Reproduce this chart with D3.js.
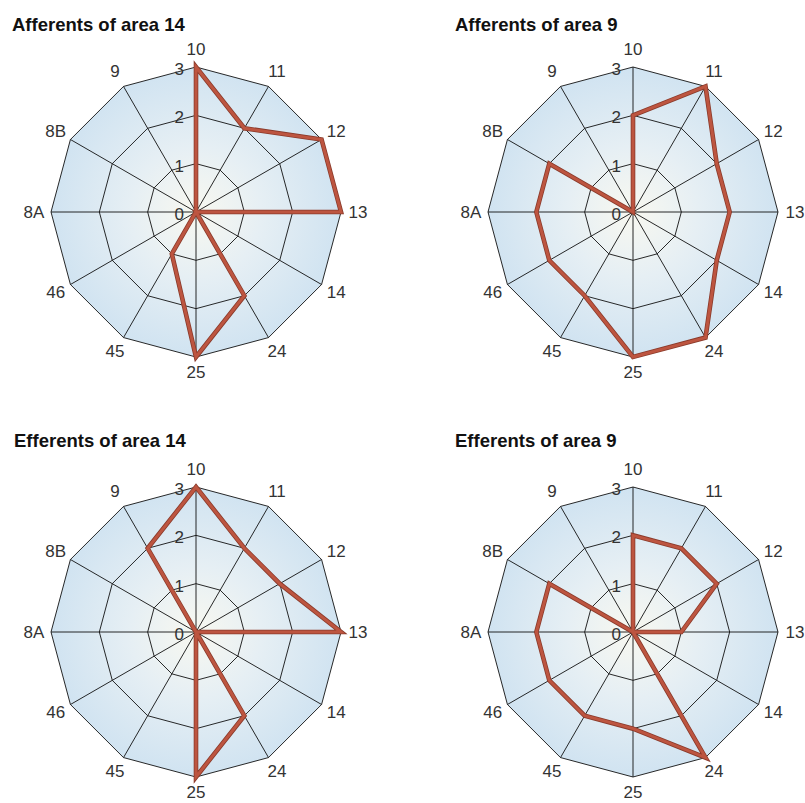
<!DOCTYPE html>
<html>
<head>
<meta charset="utf-8">
<script src="https://cdn.jsdelivr.net/npm/d3@7"></script>
<style>
  body { margin: 0; background: #fff; }
  svg { display: block; font-family: "Liberation Sans", Arial, sans-serif; }
</style>
</head>
<body>
<svg id="chart" width="805" height="803"></svg>
<script>
// Axes (clockwise from top)
const areas = ["10", "11", "12", "13", "14", "24", "25", "45", "46", "8A", "8B", "9"];
const ticks = [0, 1, 2, 3];

const titles = ["Afferents of area 14", "Afferents of area 9", "Efferents of area 14", "Efferents of area 9"];

// connection strength per area, same order as areas
const afferents14 = [3, 2, 3, 3, 0, 2, 3, 1, 0, 0, 0, 0];
const afferents9  = [2, 3, 2, 2, 2, 3, 3, 2, 2, 2, 2, 0];
const efferents14 = [3, 2, 2, 3, 0, 2, 3, 0, 0, 0, 0, 2];
const efferents9  = [2, 2, 2, 1, 0, 3, 2, 2, 2, 2, 2, 0];

const series = [afferents14, afferents9, efferents14, efferents9];

const svg = d3.select("#chart");

// positions des panneaux
const centers = [[196, 212], [633, 212], [196, 632], [633, 632]];
const titleX = [12, 455, 14, 455];
const titleY = [31, 31, 447, 447];

const R = 145;
const r = d3.scaleLinear().domain([0, 3]).range([0, R]);
const angle = d3.scalePoint().domain(areas).range([0, 2 * Math.PI * 11 / 12]);

// radial gradient background
const defs = svg.append("defs");
const grad = defs.append("radialGradient").attr("id", "bg")
    .attr("cx", "50%").attr("cy", "50%").attr("r", "50%");
grad.append("stop").attr("offset", "0%").attr("stop-color", "#f8f8f0");
grad.append("stop").attr("offset", "45%").attr("stop-color", "#e6eff4");
grad.append("stop").attr("offset", "100%").attr("stop-color", "#d0e3f1");

const pt = (a, v) => [r(v) * Math.sin(angle(a)), -r(v) * Math.cos(angle(a))];

const radial = d3.lineRadial()
    .angle(d => angle(d.area))
    .radius(d => r(d.value))
    .curve(d3.curveLinearClosed);

series.forEach((values, k) => {
    const g = svg.append("g")
        .attr("transform", `translate(${centers[k][0]}, ${centers[k][1]})`);

    svg.append("text")
        .attr("x", titleX[k])
        .attr("y", titleY[k])
        .text(titles[k])
        .style("font-size", "18.5px")
        .style("font-weight", "bold")
        .style("fill", "#111");

    // fond
    g.append("path")
        .attr("d", radial(areas.map(a => ({ area: a, value: 3 }))))
        .style("fill", "url(#bg)");

    // anneaux
    g.selectAll(".ring")
        .data(ticks.slice(1))
        .enter()
        .append("path")
        .attr("class", "ring")
        .attr("d", t => radial(areas.map(a => ({ area: a, value: t }))))
        .style("fill", "none")
        .style("stroke", "#111")
        .style("stroke-width", 0.9);

    // rayons
    g.selectAll(".spoke")
        .data(areas)
        .enter()
        .append("line")
        .attr("class", "spoke")
        .attr("x1", 0).attr("y1", 0)
        .attr("x2", a => pt(a, 3)[0])
        .attr("y2", a => pt(a, 3)[1])
        .style("stroke", "#111")
        .style("stroke-width", 0.9);

    // tick labels
    g.selectAll(".tick")
        .data(ticks)
        .enter()
        .append("text")
        .attr("class", "tick")
        .attr("x", -12)
        .attr("y", t => -r(t) + 2)
        .attr("dy", "0.36em")
        .style("text-anchor", "end")
        .style("font-size", "17px")
        .style("fill", "#333")
        .text(t => t);

    // area labels (un peu moins loin en bas pour rester dans la page)
    g.selectAll(".label")
        .data(areas)
        .enter()
        .append("text")
        .attr("class", "label")
        .attr("x", a => (R + 17) * Math.sin(angle(a)))
        .attr("y", a => {
            const c = Math.cos(angle(a));
            return -(c > 0 ? R + 18 : R + 15) * c;
        })
        .attr("dy", "0.36em")
        .style("text-anchor", "middle")
        .style("font-size", "17px")
        .style("fill", "#333")
        .text(a => a);

    const d = radial(areas.map((a, i) => ({ area: a, value: values[i] })));
    g.append("path")
        .attr("d", d)
        .style("fill", "none")
        .style("stroke", "#8a3a2a")
        .style("stroke-width", 4.6)
        .style("stroke-linejoin", "miter");
    g.append("path")
        .attr("d", d)
        .style("fill", "none")
        .style("stroke", "#bd5540")
        .style("stroke-width", 3)
        .style("stroke-linejoin", "miter");
});
</script>
</body>
</html>
